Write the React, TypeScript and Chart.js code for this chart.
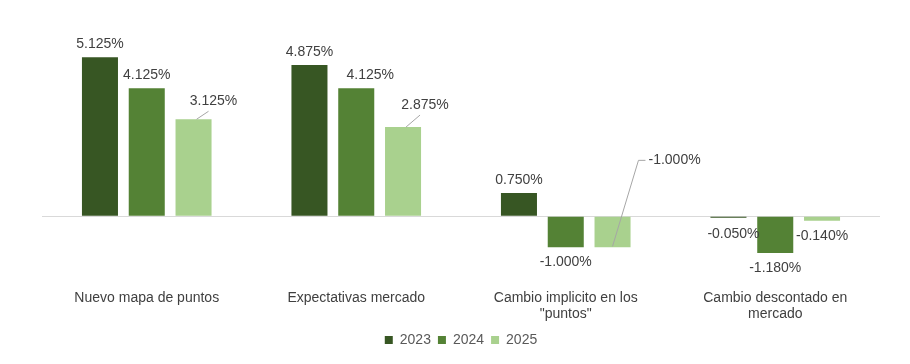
import React, { useEffect, useRef } from "react";
import { Chart, registerables } from "chart.js";

Chart.register(...registerables);

const categories: (string | string[])[] = [
  "Nuevo mapa de puntos",
  "Expectativas mercado",
  ["Cambio implicito en los", "\"puntos\""],
  ["Cambio descontado en", "mercado"],
];
const seriesNames = ["2023", "2024", "2025"];
const values2023 = [5.125, 4.875, 0.75, -0.05];
const values2024 = [4.125, 4.125, -1.0, -1.18];
const values2025 = [3.125, 2.875, -1.0, -0.14];
const seriesColors = ["#375623", "#548235", "#A9D18E"];

// label placement tweaks: key = "dataset-index"
const labelTweaks: Record<string, { dx: number; dy: number; leader?: "below" | "left" }> = {
  "1-1": { dx: 14, dy: 0 },
  "2-0": { dx: 20, dy: -5, leader: "below" },
  "2-1": { dx: 22, dy: -9, leader: "below" },
  "2-2": { dx: 62, dy: -102, leader: "left" },
  "0-3": { dx: 5, dy: 1 },
};

const FONT = "'Liberation Sans', Arial, sans-serif";

const labelPlugin = {
  id: "barLabels",
  afterDatasetsDraw(chart: any) {
    const ctx = chart.ctx;
    ctx.save();
    ctx.font = `14px ${FONT}`;
    ctx.fillStyle = "#404040";
    ctx.textAlign = "center";
    ctx.textBaseline = "middle";
    chart.data.datasets.forEach((ds: any, di: number) => {
      const meta = chart.getDatasetMeta(di);
      meta.data.forEach((bar: any, i: number) => {
        const v = ds.data[i] as number;
        const text = v.toFixed(3) + "%";
        const t = labelTweaks[`${di}-${i}`] || { dx: 0, dy: 0 };
        const baseY = v >= 0 ? bar.y - 13 : bar.y + 15;
        const cx = bar.x + t.dx;
        const cy = baseY + t.dy;
        if (t.leader) {
          ctx.strokeStyle = "#a6a6a6";
          ctx.lineWidth = 1;
          ctx.beginPath();
          if (t.leader === "below") {
            ctx.moveTo(bar.x + 3, bar.y);
            ctx.lineTo(cx - 5, cy + 10);
          } else {
            const w = ctx.measureText(text).width;
            const left = cx - w / 2;
            ctx.moveTo(bar.x, bar.y - 1);
            ctx.lineTo(left - 10, cy);
            ctx.lineTo(left - 3, cy);
          }
          ctx.stroke();
        }
        ctx.fillText(text, cx, cy);
      });
    });
    ctx.restore();
  },
};

export default function App() {
  const ref = useRef<HTMLCanvasElement | null>(null);
  useEffect(() => {
    if (!ref.current) return;
    const data = [values2023, values2024, values2025];
    const chart = new Chart(ref.current, {
      type: "bar",
      data: {
        labels: categories,
        datasets: seriesNames.map((name, k) => ({
          label: name,
          data: data[k],
          backgroundColor: seriesColors[k],
          borderWidth: 0,
          barPercentage: 0.77,
          categoryPercentage: 0.67,
        })),
      },
      options: {
        animation: false,
        responsive: false,
        maintainAspectRatio: false,
        layout: { padding: { left: 42, right: 30, top: 30, bottom: 7 } },
        plugins: {
          legend: {
            position: "bottom",
            labels: {
              boxWidth: 8,
              boxHeight: 8,
              padding: 7,
              color: "#595959",
              font: { family: FONT, size: 14 },
            },
          },
          tooltip: { enabled: false },
        },
        scales: {
          x: {
            grid: { display: false },
            border: { display: false },
            ticks: {
              color: "#404040",
              font: { family: FONT, size: 14 },
              padding: 3,
              maxRotation: 0,
              autoSkip: false,
            },
          },
          y: {
            min: -2,
            max: 6,
            ticks: { display: false, stepSize: 1 },
            border: { display: false },
            grid: {
              drawTicks: false,
              color: (c: any) => (c.tick && c.tick.value === 0 ? "#d9d9d9" : "transparent"),
            },
          },
        },
      },
      plugins: [labelPlugin],
    });
    return () => chart.destroy();
  }, []);
  return (
    <div style={{ position: "fixed", left: 0, top: 0, width: 910, height: 364, background: "#fff" }}>
      <canvas ref={ref} width={910} height={364} />
    </div>
  );
}
